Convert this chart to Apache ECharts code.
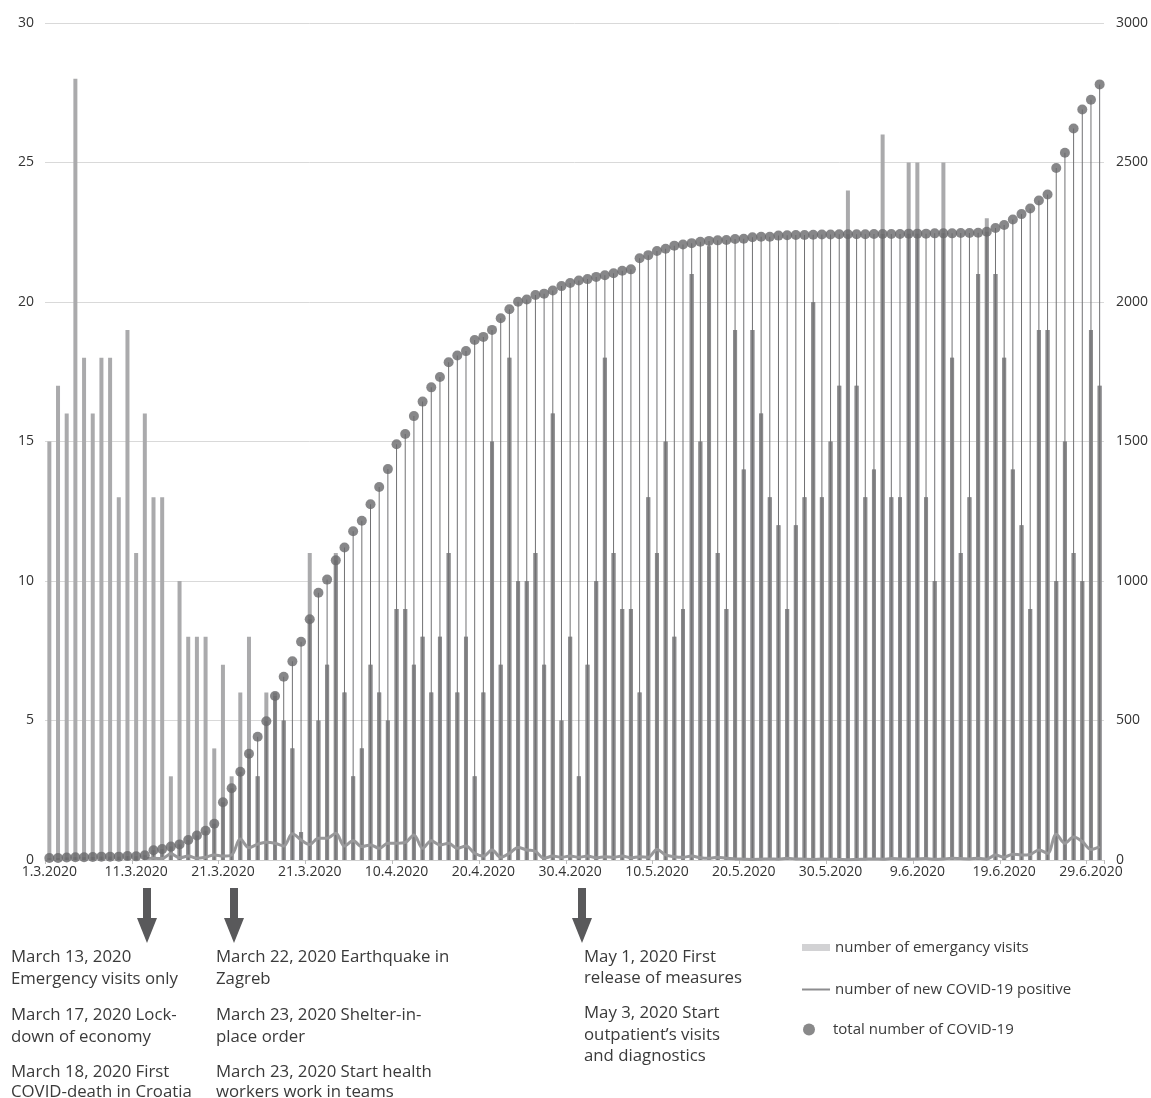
<!DOCTYPE html>
<html>
<head>
<meta charset="utf-8">
<script src="https://cdn.jsdelivr.net/npm/echarts@6/dist/echarts.min.js"></script>
<style>
html,body{margin:0;padding:0;background:#fff;}
#chart{width:1151px;height:1098px;}
</style>
</head>
<body>
<div id="chart"></div>
<script>
// ---- data ----
const tickLabels = ["1.3.2020","11.3.2020","21.3.2020","21.3.2020","10.4.2020","20.4.2020","30.4.2020","10.5.2020","20.5.2020","30.5.2020","9.6.2020","19.6.2020","29.6.2020"];

const emergencyVisits = [15,17,16,28,18,16,18,18,13,19, 11,16,13,13,3,10,8,8,8,4, 7,3,6,8,3,6,6,5,4,1,
  11,5,7,11,6,3,4,7,6,5, 9,9,7,8,6,8,11,6,8,3, 6,15,7,18,10,10,11,7,16,5,
  8,3,7,10,18,11,9,9,6,13, 11,15,8,9,21,15,22,11,9,19, 14,19,16,13,12,9,12,13,20,13,
  15,17,24,17,13,14,26,13,13,25, 25,13,10,25,18,11,13,21,23,21, 18,14,12,9,19,19,10,15,11,10,
  19,17];

const totalCovid = [7,7,9,10,10,11,12,12,12,14, 13,17,35,39,48,56,72,88,105,130,
  207,257,316,381,442,497,588,657,712,782, 863,958,1005,1074,1120,1178,1216,1275,1337,1401,
  1490,1527,1591,1643,1694,1731,1784,1808,1824,1864, 1875,1900,1942,1974,2001,2009,2025,2030,2041,2057,
  2068,2077,2082,2090,2096,2103,2112,2117,2157,2168, 2183,2191,2202,2206,2211,2216,2219,2221,2222,2226,
  2227,2232,2234,2234,2238,2239,2240,2240,2241,2242, 2242,2243,2243,2243,2243,2244,2244,2244,2244,2245,
  2245,2245,2246,2246,2246,2247,2247,2248,2252,2265, 2276,2296,2315,2335,2364,2385,2480,2535,2622,2690,
  2725,2780];

const newPositive = [null,null,null,null,null,null,null,null,null,null,null,
  5,6,5,22,8,14,6,10,18,14,
  18,75,44,57,64,60,50,94,72,56,
  78,78,96,50,69,48,54,42,60,60,
  63,90,42,69,54,60,42,50,24,14,
  36,10,24,45,36,31,6,14,10,14,
  10,14,8,12,10,14,8,12,10,38,
  18,12,10,14,8,6,10,6,4,3,
  2,3,4,3,6,4,3,2,4,3,
  2,1,2,3,4,3,5,4,3,4,
  5,3,4,6,5,4,6,3,18,10,
  21,18,20,36,24,92,60,82,66,38,48];

const notes = [
  {x:11, lines:[["March 13, 2020",957],["Emergency visits only",979],["March 17, 2020 Lock-",1015],["down of economy",1037],["March 18, 2020 First",1072],["COVID-death in Croatia",1092]]},
  {x:216, lines:[["March 22, 2020 Earthquake in",957],["Zagreb",979],["March 23, 2020 Shelter-in-",1015],["place order",1037],["March 23, 2020 Start health",1072],["workers work in teams",1092]]},
  {x:584, lines:[["May 1, 2020 First",957],["release of measures",978],["May 3, 2020 Start",1013],["outpatient\u2019s visits",1035],["and diagnostics",1056]]}
];
const arrowX = [147, 234, 582];

// categories: 1.3.2020 ... 30.6.2020
const categories = [];
(function(){
  const d = new Date(2020, 2, 1);
  for (let i = 0; i < emergencyVisits.length; i++) {
    categories.push(d.getDate() + "." + (d.getMonth()+1) + ".2020");
    d.setDate(d.getDate()+1);
  }
})();

// lower (darker) part of each bar, below the dot
const visitsUnderDot = emergencyVisits.map((v,i) => Math.min(v, totalCovid[i]/100));

const FONT = "'Open Sans', 'Noto Sans', sans-serif";
const chart = echarts.init(document.getElementById('chart'), null, {renderer:'canvas'});

const graphics = [];
arrowX.forEach(x => {
  graphics.push({type:'polygon', shape:{points:[[x-4,888],[x+4,888],[x+4,918],[x+10,918],[x,943],[x-10,918],[x-4,918]]}, style:{fill:'#59595b'}});
});
notes.forEach(n => n.lines.forEach(l => {
  graphics.push({type:'text', x:n.x, y:l[1], style:{text:l[0], font:"16.8px " + FONT, fill:'#3a3a3a', textVerticalAlign:'middle'}});
}));

const legendText = {fontSize:15, color:'#3a3a3a', fontFamily:FONT};

chart.setOption({
  animation:false,
  backgroundColor:'#fff',
  grid:{left:45, right:45, top:23, bottom:238},
  xAxis:[
    {type:'category', data:categories, boundaryGap:true,
     axisLine:{show:true, lineStyle:{color:'#cfcfcf'}},
     axisTick:{show:true, interval:9, length:4, lineStyle:{color:'#bdbdbd'}},
     axisLabel:{interval:9, margin:5, fontSize:14, color:'#333', fontFamily:FONT,
       formatter:(v,idx)=> idx % 10 === 0 ? (tickLabels[idx/10] || '') : ''}},
    {type:'category', data:categories, boundaryGap:true, show:false}
  ],
  yAxis:[
    {type:'value', min:0, max:30, interval:5, position:'left',
     axisLine:{show:false}, axisTick:{show:false},
     axisLabel:{fontSize:14, color:'#333', fontFamily:FONT, margin:11, formatter:v=>String(v)},
     splitLine:{show:true, lineStyle:{color:'#d9d9d9', width:1}}},
    {type:'value', min:0, max:3000, interval:500, position:'right',
     axisLine:{show:false}, axisTick:{show:false},
     axisLabel:{fontSize:14, color:'#333', fontFamily:FONT, margin:12, formatter:v=>String(v)},
     splitLine:{show:false}}
  ],
  legend:[
    {data:[{name:'number of emergancy visits', icon:'rect', itemStyle:{color:'#d2d2d4'}}], left:797, top:935, itemWidth:28, itemHeight:7, itemGap:0, textStyle:legendText, selectedMode:false},
    {data:[{name:'number of new COVID-19 positive', icon:'rect', itemStyle:{color:'#8d8d8f'}}], left:797, top:977, itemWidth:28, itemHeight:2, itemGap:0, textStyle:legendText, selectedMode:false},
    {data:[{name:'total number of COVID-19', icon:'circle', itemStyle:{color:'#6b6b6d'}}], left:798, top:1017, itemWidth:28, itemHeight:12, itemGap:0, textStyle:Object.assign({padding:[0,0,0,5]}, legendText), selectedMode:false}
  ],
  graphic:graphics,
  series:[
    {name:'number of emergancy visits', type:'bar', xAxisIndex:0, yAxisIndex:0, data:emergencyVisits,
     barWidth:4, barGap:'-100%', itemStyle:{color:'#aaaaac'}, z:1},
    {name:'visits-under', type:'bar', xAxisIndex:0, yAxisIndex:0, data:visitsUnderDot,
     barWidth:4, barGap:'-100%', itemStyle:{color:'#8a8a8c'}, z:2, silent:true},
    {name:'drop', type:'bar', xAxisIndex:1, yAxisIndex:1, data:totalCovid,
     barWidth:1, itemStyle:{color:'#717173'}, z:3, silent:true},
    {name:'number of new COVID-19 positive', type:'line', xAxisIndex:1, yAxisIndex:1, data:newPositive,
     smooth:0.35, showSymbol:false, connectNulls:false,
     lineStyle:{color:'#98989a', width:3}, itemStyle:{color:'#8d8d8f'}, z:4},
    {name:'total number of COVID-19', type:'scatter', xAxisIndex:1, yAxisIndex:1, data:totalCovid,
     symbol:'circle', symbolSize:10, itemStyle:{color:'#69696b'}, z:5}
  ]
});
</script>
</body>
</html>
